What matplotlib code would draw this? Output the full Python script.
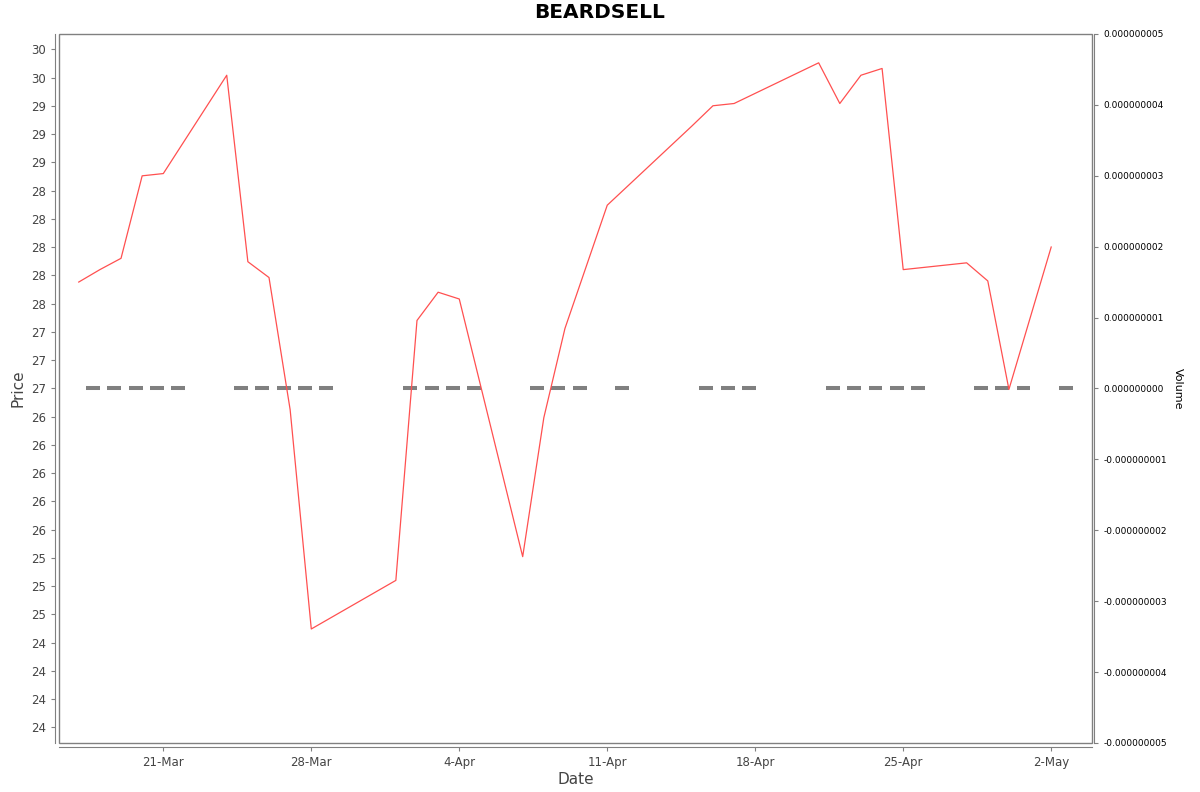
import numpy as np
import pandas as pd
import matplotlib
matplotlib.use("Agg")
import matplotlib.pyplot as plt
import matplotlib.dates as mdates
from matplotlib.ticker import FixedLocator, FuncFormatter
from matplotlib.patches import Rectangle

# Datos
fechas = ["2025-03-17", "2025-03-18", "2025-03-19", "2025-03-20", "2025-03-21",
          "2025-03-24", "2025-03-25", "2025-03-26", "2025-03-27", "2025-03-28",
          "2025-04-01", "2025-04-02", "2025-04-03", "2025-04-04",
          "2025-04-07", "2025-04-08", "2025-04-09", "2025-04-11",
          "2025-04-15", "2025-04-16", "2025-04-17",
          "2025-04-21", "2025-04-22", "2025-04-23", "2025-04-24", "2025-04-25",
          "2025-04-28", "2025-04-29", "2025-04-30", "2025-05-02"]
precio = [27.69, 27.80, 27.90, 28.63, 28.65,
          29.52, 27.87, 27.73, 26.56, 24.62,
          25.05, 27.35, 27.60, 27.54,
          25.26, 26.49, 27.28, 28.37,
          29.07, 29.25, 29.27,
          29.63, 29.27, 29.52, 29.58, 27.80,
          27.86, 27.70, 26.74, 28.00]
volumen = [0] * len(fechas)

fechas = pd.to_datetime(fechas)
x = mdates.date2num(fechas)

GRIS = "#808080"
TEXTO = "#444444"

fig = plt.figure(figsize=(12, 7.92), dpi=100)
ax = fig.add_axes([59 / 1200, 1 - 743 / 792, (1092 - 59) / 1200, (743 - 34) / 792])
ax2 = ax.twinx()

# Precio (eje izquierdo)
ax.plot(x, precio, color="#ff5050", lw=0.9, zorder=3)
ax.set_zorder(ax2.get_zorder() + 1)
ax.patch.set_visible(False)

# Volumen (eje derecho), barras de altura cero
ax2.bar(x + 0.69, volumen, width=0.66, color=GRIS, edgecolor=GRIS, lw=2.9)

ax.set_xlim(x[4] - 4.934, x[4] + 43.93)
ax.set_ylim(23.611, 29.885)
ax2.set_ylim(-5e-9, 5e-9)

ax.yaxis.set_major_locator(FixedLocator(np.arange(23.75, 29.76, 0.25)))
ax.yaxis.set_major_formatter(FuncFormatter(lambda v, p: f"{round(v):d}"))
ax2.yaxis.set_major_locator(FixedLocator(np.arange(-5, 6) * 1e-9))
ax2.yaxis.set_major_formatter(FuncFormatter(lambda v, p: f"{v:.9f}"))

ax.xaxis.set_major_locator(mdates.WeekdayLocator(byweekday=mdates.FR))
ax.xaxis.set_major_formatter(FuncFormatter(lambda v, p: f"{mdates.num2date(v).day}-{mdates.num2date(v):%b}"))

for s in ["top", "right"]:
    ax.spines[s].set_visible(False)
for s in ["top", "left", "bottom"]:
    ax2.spines[s].set_visible(False)
for s in ["left", "bottom"]:
    ax.spines[s].set_position(("outward", 3))
    ax.spines[s].set_color(GRIS)
ax2.spines["right"].set_position(("outward", 1.5))
ax2.spines["right"].set_color(GRIS)

# Borde del área de trazado
ax.add_patch(Rectangle((0, 0), 1, 1, transform=ax.transAxes, fill=False,
                       edgecolor=GRIS, lw=1, clip_on=False, zorder=5))

ax.tick_params(axis="both", colors=GRIS, labelcolor=TEXTO, labelsize=8.5, length=3, width=0.8)
ax2.tick_params(axis="y", colors=GRIS, labelcolor="black", labelsize=6.5, length=3, width=0.8)

ax.set_xlabel("Date", fontsize=11, color=TEXTO, labelpad=2)
ax.set_ylabel("Price", fontsize=11, color=TEXTO, labelpad=4)
ax2.set_ylabel("Volume", fontsize=8, color="black", rotation=-90, labelpad=12)

fig.suptitle("BEARDSELL", fontsize=14.5, fontweight="bold", y=1 - 13 / 792, va="center")

fig.savefig("out.png", dpi=100)
